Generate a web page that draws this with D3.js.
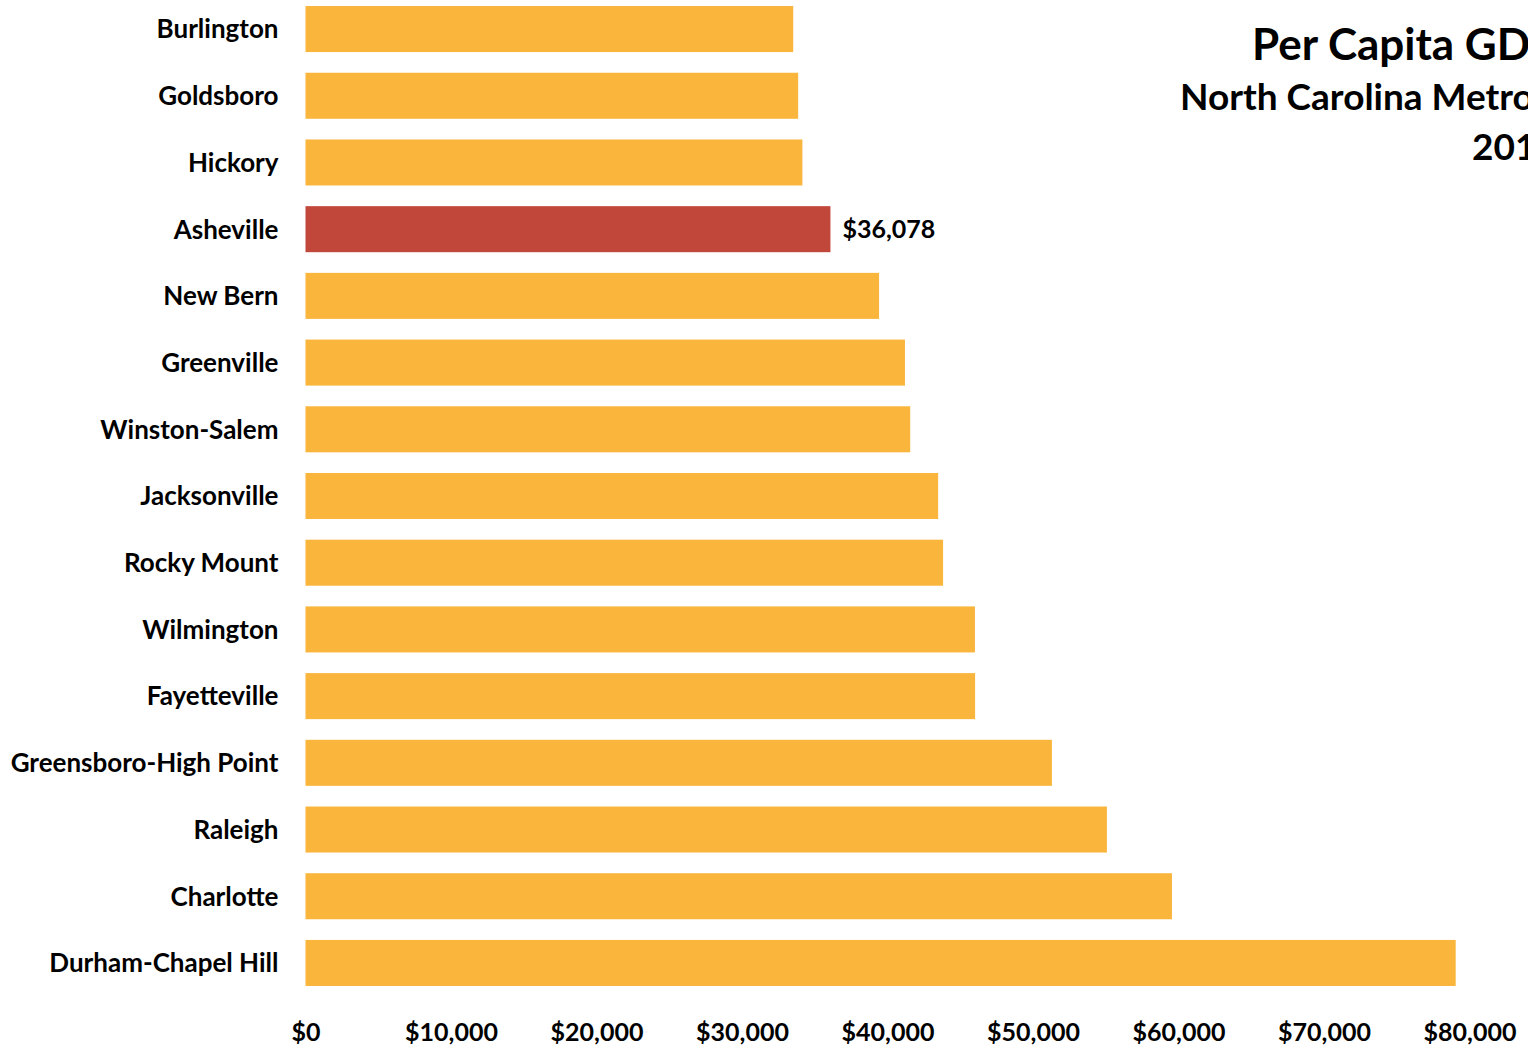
<!DOCTYPE html>
<html>
<head>
<meta charset="utf-8">
<script src="https://cdn.jsdelivr.net/npm/d3@7"></script>
<style>
  html, body { margin: 0; padding: 0; background: #ffffff; overflow: hidden; }
  svg { display: block; font-family: Lato, "Open Sans", sans-serif; font-weight: 700; }
</style>
</head>
<body>
<svg id="chart" width="1528" height="1048"></svg>
<script>
// Metro areas, ordered from lowest to highest per capita GDP
const metros = [
  "Burlington", "Goldsboro", "Hickory", "Asheville", "New Bern", "Greenville",
  "Winston-Salem", "Jacksonville", "Rocky Mount", "Wilmington", "Fayetteville",
  "Greensboro-High Point", "Raleigh", "Charlotte", "Durham-Chapel Hill"
];
// Per capita GDP in dollars
const gdpPerCapita = [
  33520, 33860, 34150, 36078, 39420, 41200,
  41560, 43480, 43820, 46010, 46020,
  51300, 55080, 59550, 79050
];
const highlightMetro = "Asheville";
const tickValues = [0, 10000, 20000, 30000, 40000, 50000, 60000, 70000, 80000];
const titleLines = ["Per Capita GDP", "North Carolina Metros", "2013"];

const rows = metros.map((m, i) => ({ metro: m, value: gdpPerCapita[i] }));

const svg = d3.select("#chart");
const fmt = v => "$" + d3.format(",")(v);

const x = d3.scaleLinear().domain([0, 80000]).range([305.5, 1469.5]);
const y = d3.scaleBand().domain(metros).range([-4.3, 996.3])
  .paddingInner(0.31).paddingOuter(0.155);

// Bars
svg.append("g").selectAll("rect").data(rows).join("rect")
  .attr("x", x(0))
  .attr("y", d => y(d.metro))
  .attr("width", d => x(d.value) - x(0))
  .attr("height", y.bandwidth())
  .attr("fill", d => d.metro === highlightMetro ? "#c2473b" : "#f9b53c");

// Value label on the highlighted bar
const hl = rows.find(d => d.metro === highlightMetro);
svg.append("text")
  .attr("x", x(hl.value) + 12)
  .attr("y", y(hl.metro) + y.bandwidth() / 2)
  .attr("dy", "0.36em")
  .attr("font-size", 25)
  .attr("fill", "#000")
  .text(fmt(hl.value));

// Category axis (labels only)
const yAxis = svg.append("g")
  .attr("transform", `translate(${x(0)},0)`)
  .call(d3.axisLeft(y).tickSize(0).tickPadding(27));
yAxis.select(".domain").remove();
yAxis.selectAll("text")
  .attr("dy", "0.36em")
  .attr("font-family", "Lato, 'Open Sans', sans-serif")
  .attr("font-weight", 700)
  .attr("font-size", 26)
  .attr("fill", "#000");

// Value axis (labels only)
const xAxis = svg.append("g")
  .attr("transform", "translate(0,1032)")
  .call(d3.axisBottom(x).tickValues(tickValues).tickFormat(fmt).tickSize(0).tickPadding(0));
xAxis.select(".domain").remove();
xAxis.selectAll("text")
  .attr("dy", "0.36em")
  .attr("font-family", "Lato, 'Open Sans', sans-serif")
  .attr("font-weight", 700)
  .attr("font-size", 25)
  .attr("fill", "#000");

// Title block in the upper right
const title = svg.append("g").attr("fill", "#000");
title.append("text").attr("x", 1252).attr("y", 60)
  .attr("font-size", 44).text(titleLines[0]);
title.append("text").attr("x", 1180).attr("y", 110)
  .attr("font-size", 37).text(titleLines[1]);
title.append("text").attr("x", 1472).attr("y", 160)
  .attr("font-size", 37).text(titleLines[2]);
</script>
</body>
</html>
